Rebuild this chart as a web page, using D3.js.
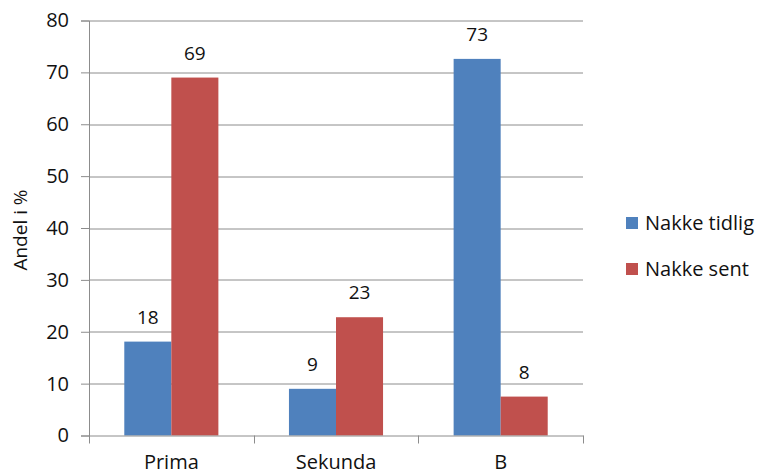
<!DOCTYPE html>
<html>
<head>
<meta charset="utf-8">
<script src="https://cdn.jsdelivr.net/npm/d3@7"></script>
<style>
  body { margin: 0; background: #fff; }
  text { font-family: "Open Sans", sans-serif; fill: #111; }
</style>
</head>
<body>
<svg width="761" height="476"></svg>
<script>
var categories = ["Prima", "Sekunda", "B"];
var seriesNames = ["Nakke tidlig", "Nakke sent"];
var tidlig = [18.1, 9.0, 72.6];
var sent = [69.0, 22.8, 7.5];
var yTicks = [0, 10, 20, 30, 40, 50, 60, 70, 80];
var colors = ["#4F81BD", "#C0504D"];

var svg = d3.select("svg");
var margin = { top: 20.5, right: 178, bottom: 40.5, left: 89 };
var width = 761 - margin.left - margin.right;
var height = 476 - margin.top - margin.bottom;
var g = svg.append("g").attr("transform", "translate(" + margin.left + "," + margin.top + ")");

var x0 = d3.scaleBand().domain(categories).range([0, width]).paddingInner(0).paddingOuter(0);
// bars take 4/7 of each category (Excel gap width 150%)
var x1 = d3.scaleBand().domain(seriesNames)
    .range([x0.bandwidth() * 0.2143, x0.bandwidth() * 0.7857]);
var y = d3.scaleLinear().domain([0, 80]).range([height, 0]);

var data = categories.map(function (c, i) {
    return { cat: c, vals: [tidlig[i], sent[i]] };
});

// gridlines
g.append("g")
    .selectAll("line")
    .data(yTicks.slice(1))
    .enter().append("line")
    .attr("x1", 0).attr("x2", width)
    .attr("y1", function (d) { return Math.round(y(d)) + 0.5; })
    .attr("y2", function (d) { return Math.round(y(d)) + 0.5; })
    .attr("stroke", "#8c8c8c").attr("stroke-width", 1);

// bars
var groups = g.selectAll(".grp").data(data).enter().append("g")
    .attr("transform", function (d) { return "translate(" + x0(d.cat) + ",0)"; });

groups.selectAll("rect")
    .data(function (d) { return d.vals.map(function (v, j) { return { s: seriesNames[j], v: v, j: j }; }); })
    .enter().append("rect")
    .attr("x", function (d) { return x1(d.s); })
    .attr("width", x1.bandwidth())
    .attr("y", function (d) { return y(d.v); })
    .attr("height", function (d) { return height - y(d.v); })
    .attr("fill", function (d) { return colors[d.j]; });

groups.selectAll(".lbl")
    .data(function (d) { return d.vals.map(function (v, j) { return { s: seriesNames[j], v: v }; }); })
    .enter().append("text")
    .attr("x", function (d) { return x1(d.s) + x1.bandwidth() / 2; })
    .attr("y", function (d) { return y(d.v) - 18; })
    .attr("text-anchor", "middle")
    .style("font-size", "19px")
    .text(function (d) { return d3.format(".0f")(d.v); });

// y axis
var yAxis = g.append("g")
    .call(d3.axisLeft(y).tickValues(yTicks).tickSize(8).tickPadding(12));
yAxis.select(".domain").attr("stroke", "#8c8c8c");
yAxis.selectAll(".tick line").attr("stroke", "#8c8c8c");
yAxis.selectAll("text").style("font-size", "20px").attr("fill", "#111");

// x axis
var xAxis = g.append("g")
    .attr("transform", "translate(0," + height + ")")
    .call(d3.axisBottom(x0).tickSize(0).tickPadding(19));
xAxis.select(".domain").attr("stroke", "#8c8c8c");
xAxis.selectAll("text").style("font-size", "20px").attr("fill", "#111");
xAxis.selectAll(".sep")
    .data(d3.range(categories.length + 1))
    .enter().append("line")
    .attr("x1", function (i) { return Math.round(i * x0.step()) + 0.5; })
    .attr("x2", function (i) { return Math.round(i * x0.step()) + 0.5; })
    .attr("y1", 0).attr("y2", 8)
    .attr("stroke", "#8c8c8c");

// y title
svg.append("text")
    .attr("transform", "translate(27,230) rotate(-90)")
    .attr("text-anchor", "middle")
    .style("font-size", "19px")
    .text("Andel i %");

// legend
var legend = svg.append("g").attr("transform", "translate(626,217)");
var items = legend.selectAll("g").data(seriesNames).enter().append("g")
    .attr("transform", function (d, i) { return "translate(0," + i * 46 + ")"; });
items.append("rect").attr("width", 12).attr("height", 12)
    .attr("fill", function (d, i) { return colors[i]; });
items.append("text").attr("x", 19).attr("y", 13)
    .style("font-size", "20px")
    .text(function (d) { return d; });
</script>
</body>
</html>
